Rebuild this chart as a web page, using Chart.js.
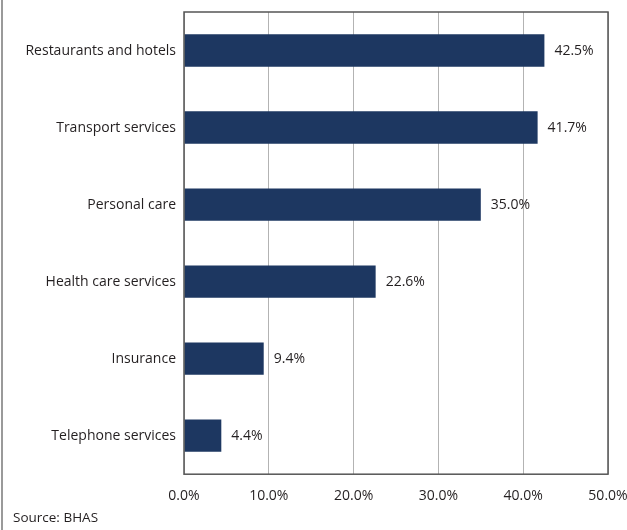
<!DOCTYPE html>
<html>
<head>
<meta charset="utf-8">
<script src="https://cdn.jsdelivr.net/npm/chart.js@4"></script>
<style>
  html, body { margin: 0; padding: 0; background: #fff; }
  #wrap { position: relative; width: 627px; height: 530px; }
  #wrap::before { content: ""; position: absolute; left: 1px; top: 0; bottom: 0; width: 2px; background: #9a9a9a; }
</style>
</head>
<body>
<div id="wrap"><canvas id="chart" width="627" height="530"></canvas></div>
<script>
const categories = ["Restaurants and hotels", "Transport services", "Personal care", "Health care services", "Insurance", "Telephone services"];
const shares = [42.5, 41.7, 35.0, 22.6, 9.4, 4.4];
const xTicks = [0, 10, 20, 30, 40, 50];
const sourceNote = "Source: BHAS";

const fontFamily = "'Open Sans', 'Noto Sans', sans-serif";
const textColor = "#231f20";

// frame round the plot and the value next to each bar
const extras = {
  id: 'extras',
  afterDatasetsDraw(chart) {
    const ctx = chart.ctx;
    const a = chart.chartArea;
    ctx.save();
    ctx.strokeStyle = '#555';
    ctx.lineWidth = 1.5;
    ctx.strokeRect(a.left, a.top, a.right - a.left, a.bottom - a.top);

    ctx.fillStyle = textColor;
    ctx.font = "14px " + fontFamily;
    ctx.textBaseline = 'middle';
    ctx.textAlign = 'left';
    const meta = chart.getDatasetMeta(0);
    meta.data.forEach((bar, i) => {
      ctx.fillText(shares[i].toFixed(1) + '%', bar.x + 10, bar.y);
    });

    ctx.font = "13.5px " + fontFamily;
    ctx.textBaseline = 'alphabetic';
    ctx.fillText(sourceNote, 13, 522);
    ctx.restore();
  }
};

new Chart(document.getElementById('chart'), {
  type: 'bar',
  data: {
    labels: categories,
    datasets: [{
      data: shares,
      backgroundColor: '#1d3761',
      borderWidth: 0,
      barPercentage: 0.42,
      categoryPercentage: 1
    }]
  },
  options: {
    indexAxis: 'y',
    responsive: false,
    animation: false,
    layout: { padding: { left: 0, top: 12, right: 0, bottom: 13 } },
    plugins: {
      legend: { display: false },
      tooltip: { enabled: false }
    },
    scales: {
      x: {
        min: 0,
        max: 50,
        afterBuildTicks(scale) {
          scale.ticks = xTicks.map(v => ({ value: v }));
        },
        afterFit(scale) {
          scale.paddingRight = 19;
          scale.paddingLeft = 0;
        },
        ticks: {
          callback: v => v.toFixed(1) + '%',
          color: textColor,
          font: { family: fontFamily, size: 14 },
          padding: 13
        },
        grid: { color: '#b3b3b3', lineWidth: 1, drawTicks: false },
        border: { display: false }
      },
      y: {
        afterFit(scale) {
          scale.width = 184;
          scale.paddingTop = 0;
          scale.paddingBottom = 0;
        },
        ticks: {
          color: textColor,
          font: { family: fontFamily, size: 14 },
          padding: 8
        },
        grid: { display: false, drawTicks: false },
        border: { display: false }
      }
    }
  },
  plugins: [extras]
});
</script>
</body>
</html>
